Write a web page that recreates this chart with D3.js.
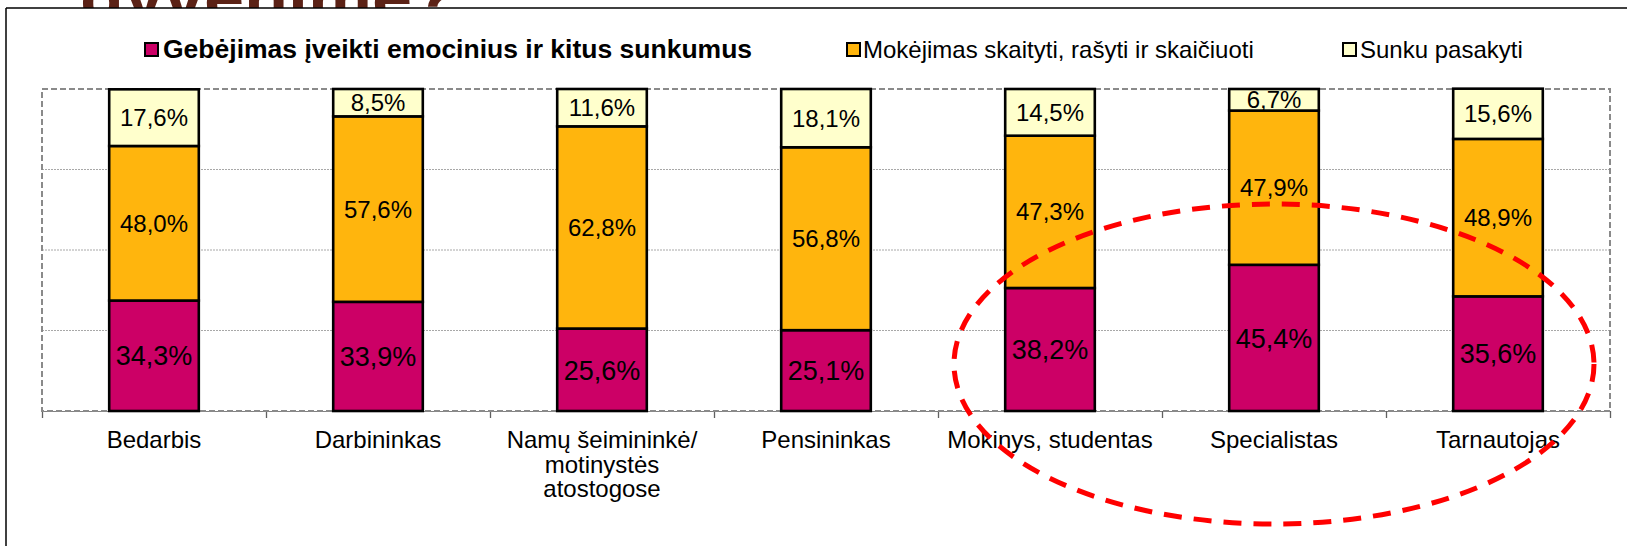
<!DOCTYPE html>
<html>
<head>
<meta charset="utf-8">
<script src="https://cdn.jsdelivr.net/npm/d3@7"></script>
<style>
  html, body { margin: 0; padding: 0; background: #ffffff; }
  svg { display: block; font-family: "Liberation Sans", Arial, sans-serif; }
</style>
</head>
<body>
<svg id="chart" width="1627" height="546"></svg>
<script>
// ---- data ----
const categories = ["Bedarbis", "Darbininkas", "Namų šeimininkė/\nmotinystės\natostogose", "Pensininkas", "Mokinys, studentas", "Specialistas", "Tarnautojas"];
const seriesNames = ["Gebėjimas įveikti emocinius ir kitus sunkumus", "Mokėjimas skaityti, rašyti ir skaičiuoti", "Sunku pasakyti"];
const gebejimas = [34.3, 33.9, 25.6, 25.1, 38.2, 45.4, 35.6];
const mokejimas = [48.0, 57.6, 62.8, 56.8, 47.3, 47.9, 48.9];
const sunku = [17.6, 8.5, 11.6, 18.1, 14.5, 6.7, 15.6];
const gridValues = [25, 50, 75];
const backTitle = "gyvenime?";

const colors = ["#CC0066", "#FFB50D", "#FFFFCC"];

const svg = d3.select("#chart");
const W = 1627, H = 546;
const plot = { left: 42, right: 1610, top: 89, bottom: 411 };

// background slide title (mostly hidden behind the chart frame)
svg.append("defs").append("clipPath").attr("id", "topclip")
  .append("rect").attr("x", 0).attr("y", 0).attr("width", W).attr("height", 8);
svg.append("text")
  .attr("clip-path", "url(#topclip)")
  .attr("x", 80).attr("y", 22)
  .attr("font-size", 72).attr("font-weight", "bold")
  .attr("fill", "#5b2216")
  .text(backTitle);

// chart frame
svg.append("line").attr("x1", 6).attr("x2", W).attr("y1", 8).attr("y2", 8)
  .attr("stroke", "#000").attr("stroke-width", 1.5);
svg.append("line").attr("x1", 6).attr("x2", 6).attr("y1", 8).attr("y2", H)
  .attr("stroke", "#000").attr("stroke-width", 1.5);

// scales
const x = d3.scaleBand().domain(categories).range([plot.left, plot.right])
  .paddingInner(0.6).paddingOuter(0.3);
const y = d3.scaleLinear().domain([0, 100]).range([plot.bottom, plot.top]);
const xEdge = d3.scaleLinear().domain([0, categories.length]).range([plot.left, plot.right]);

// gridlines
svg.append("g").selectAll("line").data(gridValues).join("line")
  .attr("x1", plot.left).attr("x2", plot.right)
  .attr("y1", d => y(d)).attr("y2", d => y(d))
  .attr("stroke", "#a8a8a8").attr("stroke-width", 1)
  .attr("stroke-dasharray", "2,1");

// axis with edge ticks
const axisG = svg.append("g").attr("transform", `translate(0,${plot.bottom})`)
  .call(d3.axisBottom(xEdge).tickValues(d3.range(categories.length + 1)).tickFormat("").tickSize(7).tickSizeOuter(0));
axisG.select(".domain").attr("stroke", "#808080").attr("stroke-width", 1.2);
axisG.selectAll(".tick line").attr("stroke", "#606060").attr("stroke-width", 1.3);

// plot border dashed
svg.append("rect")
  .attr("x", plot.left).attr("y", plot.top)
  .attr("width", plot.right - plot.left).attr("height", plot.bottom - plot.top)
  .attr("fill", "none").attr("stroke", "#8a8a8a").attr("stroke-width", 2)
  .attr("stroke-dasharray", "6,3");

// stacked data
const table = categories.map((c, i) => ({ cat: c, s0: gebejimas[i], s1: mokejimas[i], s2: sunku[i] }));
const stack = d3.stack().keys(["s0", "s1", "s2"])(table);

const fmt = v => v.toFixed(1).replace(".", ",") + "%";

stack.forEach((layer, li) => {
  const g = svg.append("g");
  g.selectAll("rect").data(layer).join("rect")
    .attr("x", d => x(d.data.cat))
    .attr("width", x.bandwidth())
    .attr("y", d => y(d[1]))
    .attr("height", d => y(d[0]) - y(d[1]))
    .attr("fill", colors[li])
    .attr("stroke", "#000").attr("stroke-width", 2.6);
  g.selectAll("text").data(layer).join("text")
    .attr("x", d => x(d.data.cat) + x.bandwidth() / 2)
    .attr("y", d => (y(d[0]) + y(d[1])) / 2)
    .attr("dy", "0.36em")
    .attr("text-anchor", "middle")
    .attr("font-size", li === 0 ? 27 : 24)
    .attr("fill", "#000")
    .text(d => fmt(d[1] - d[0]));
});

// category labels
const labG = svg.append("g");
categories.forEach(c => {
  const t = labG.append("text")
    .attr("text-anchor", "middle")
    .attr("font-size", 24)
    .attr("fill", "#000");
  c.split("\n").forEach((line, k) => {
    t.append("tspan")
      .attr("x", x(c) + x.bandwidth() / 2)
      .attr("y", 448 + k * 24.5)
      .text(line);
  });
});

// legend
const legendItems = [
  { sx: 145, tx: 163, size: 26.5, weight: "bold" },
  { sx: 847, tx: 863, size: 24, weight: "normal" },
  { sx: 1343, tx: 1360, size: 24, weight: "normal" }
];
legendItems.forEach((it, i) => {
  svg.append("rect").attr("x", it.sx).attr("y", 43).attr("width", 13).attr("height", 13)
    .attr("fill", colors[i]).attr("stroke", "#000").attr("stroke-width", 2);
  svg.append("text").attr("x", it.tx).attr("y", 58)
    .attr("font-size", it.size).attr("font-weight", it.weight)
    .attr("fill", "#000").text(seriesNames[i]);
});

// red dashed highlight ellipse
svg.append("ellipse")
  .attr("cx", 1274).attr("cy", 364).attr("rx", 320).attr("ry", 160)
  .attr("fill", "none").attr("stroke", "#ff0000").attr("stroke-width", 5)
  .attr("stroke-dasharray", "18,12");
</script>
</body>
</html>
